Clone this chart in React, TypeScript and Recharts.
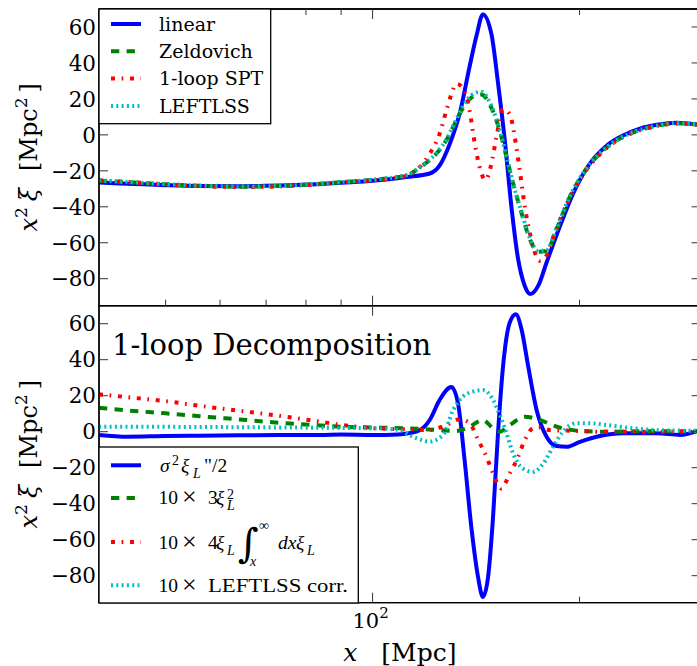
import React from 'react';
import { LineChart, Line, XAxis, YAxis, Legend, Customized, ReferenceArea } from 'recharts';

const SERIF = '"DejaVu Serif", serif';
const MATH = '"Liberation Serif", serif';

// ---------- Top panel data (x in Mpc, y = x^2 xi in Mpc^2) ----------
const linearX = [40, 45, 50, 56, 64, 73, 84, 90, 100, 112, 121.1, 125.2, 129.5, 133.9, 138.4, 141.6, 144.7, 148.9, 152.2, 155.7, 159.2, 162.8, 166.5, 169.7, 174.1, 179.1, 187.2, 195.8, 207, 219, 231.4, 244.8, 259, 276.9, 300];
const linearY = [-26.5, -27.3, -28, -28.5, -28.6, -28.2, -27.3, -26.6, -25.5, -23.4, -21.5, -17, -5, 12, 38, 55, 67, 56, 29, -3, -40, -69, -84, -88.5, -84, -71, -51, -32.5, -16, -6, -0.3, 3.5, 5.6, 6.8, 5.5];

const zelX = [40, 45, 50, 56, 64, 73, 84, 90, 100, 112, 118.3, 123.8, 128, 131.6, 135.4, 139.2, 143.9, 148.9, 153.1, 156.6, 160.1, 164.7, 169.3, 174.1, 179.1, 185.2, 193.6, 202.5, 214.1, 226.5, 239.4, 255.9, 276.9, 300];
const zelY = [-25.5, -26.5, -27.5, -28.3, -28.8, -28.5, -27.2, -26.3, -25, -22.5, -17, -10.5, -3, 6, 15, 20.7, 22.5, 15, 2.3, -12.3, -27, -43.5, -58, -65, -64.5, -52.5, -34.5, -21.5, -10.4, -3, 1.4, 4.6, 6.4, 5.6];

const leftX = [40, 45, 50, 56, 64, 73, 84, 90, 100, 112, 118.3, 123.8, 128, 131.6, 135.4, 139.2, 143.9, 148.9, 153.1, 156.6, 160.1, 164.7, 169.3, 174.1, 179.1, 185.2, 193.6, 202.5, 214.1, 226.5, 239.4, 255.9, 276.9, 300];
const leftY = [-25.3, -26.4, -27.4, -28.2, -28.7, -28.4, -27.1, -26.2, -24.9, -22.3, -16.8, -10.2, -2.6, 6.6, 16, 22, 24, 16, 2.8, -12, -27, -43, -57.5, -64.5, -64, -52, -34, -21.2, -10.2, -2.9, 1.5, 4.7, 6.5, 5.7];

const sptX = [40, 45, 50, 56, 64, 73, 84, 90, 100, 112, 117.1, 121.1, 125.2, 128, 130.2, 132.4, 135.4, 138.4, 140.8, 143.1, 145.9, 148.9, 151.4, 154.8, 158.3, 161, 163.7, 166.5, 169.3, 172.2, 175.1, 179.1, 184.1, 193.6, 202.5, 214.1, 226.5, 239.4, 255.9, 276.9, 300];
const sptY = [-25.3, -26.4, -27.6, -28.5, -29, -28.7, -27.3, -26.3, -25.3, -22.8, -18, -10.5, 0.7, 13.4, 22.6, 28.4, 26, 13.4, -4.8, -17.8, -25, -16, -1.3, 14.3, 11.5, -1.3, -19.6, -39.8, -54.4, -65.4, -70, -67, -54.4, -35, -22, -10.8, -3.3, 1.2, 4.5, 6.3, 5.6];

// ---------- Bottom panel data ----------
const sigX = [40, 44, 50, 56, 64, 73, 84, 90, 100, 109, 115.8, 121.1, 125.2, 130.2, 133.1, 136.1, 139.2, 142.4, 144.7, 147.2, 149.7, 152.2, 154.8, 158.3, 161.6, 164.7, 168.4, 173.2, 179.1, 185.2, 191.5, 200.3, 214.1, 231.4, 259, 280, 300];
const sigY = [-1.8, -2.8, -2.4, -2.2, -2.0, -1.8, -1.8, -1.6, -1.8, -1.5, 0, 6.5, 17.7, 24.8, 15.9, -15.8, -53, -81, -91.8, -81, -47.5, -0.9, 36.3, 60.6, 65.2, 56.8, 36.3, 12.1, -2.8, -8, -8.4, -5.6, -2.4, -0.9, -0.9, -1.8, 1];

const sqX = [40, 45, 50, 56, 64, 73, 84, 90, 100, 112, 125.2, 132.4, 138.4, 144.7, 149.7, 153.1, 158.3, 166.5, 175.1, 185.2, 198, 219, 250, 300];
const sqY = [13.3, 11.5, 10.2, 8.6, 6.8, 5, 3.5, 2.8, 2.3, 1.9, 0.9, 0.4, 2.8, 6.5, 1.9, 0, 3.7, 8.3, 6.5, 2.8, 0.6, 0, 0.2, 0.2];

const intX = [40, 45, 50, 56, 64, 73, 84, 90, 100, 112, 121.1, 128, 133.9, 138.4, 142.4, 146.5, 149.7, 153.9, 158.3, 162.8, 166.5, 171.2, 175.1, 180.9, 191.5, 214.1, 250, 300];
const intY = [20.8, 18.8, 17, 14.4, 11.6, 8.9, 5.5, 3.8, 2.0, 1.3, 0.9, 3.7, 6.9, 4.7, -4.6, -14, -23.2, -31.6, -23.2, -14, -4.6, 1.9, 2.4, 0.9, 0.6, 0, 0, 0];

const corrX = [40, 50, 64, 84, 100, 109.5, 114.5, 121.1, 126.6, 131, 135.4, 140, 144.7, 149.7, 153.1, 156.6, 160.1, 165.3, 171.2, 177.1, 183, 189.2, 198, 207, 219, 239.4, 259, 300];
const corrY = [2.8, 2.7, 2.5, 2.2, 1.9, 0.9, -2.8, -5.5, -1.8, 12.1, 19.6, 22.3, 23.2, 17.7, 9.3, -0.9, -12.1, -20.4, -22.3, -17.7, -8.4, 0, 4.7, 4.7, 3.7, 1.9, 0.9, 0.5];

// ---------- Axes ----------
const X_DOMAIN = [40, 300];
const X_TICKS = [50, 60, 70, 80, 90, 100, 200, 300];
const MAJOR_X = [100];
const Y_DOMAIN = [-95, 70];
const Y_TICKS = [-80, -60, -40, -20, 0, 20, 40, 60];

const topNames = ['linear', 'Zeldovich', '1-loop SPT', 'LEFTLSS'];
const colors = { blue: '#0000ff', green: '#008000', red: '#ff0000', cyan: '#00bfbf' };
const DASH_GREEN = '8.3 7.3';
const DASH_RED = '4 6.6 1.7 6.7';
const DASH_CYAN = '2 3.3';

const zip = (xs: number[], ys: number[]) => xs.map((x, i) => ({ x, y: ys[i] }));

const topSeries = [
  { name: topNames[0], data: zip(linearX, linearY), color: colors.blue, dash: undefined },
  { name: topNames[1], data: zip(zelX, zelY), color: colors.green, dash: DASH_GREEN },
  { name: topNames[2], data: zip(sptX, sptY), color: colors.red, dash: DASH_RED },
  { name: topNames[3], data: zip(leftX, leftY), color: colors.cyan, dash: DASH_CYAN },
];

const bottomSeries = [
  { key: 'sig', data: zip(sigX, sigY), color: colors.blue, dash: undefined },
  { key: 'sq', data: zip(sqX, sqY), color: colors.green, dash: DASH_GREEN },
  { key: 'int', data: zip(intX, intY), color: colors.red, dash: DASH_RED },
  { key: 'corr', data: zip(corrX, corrY), color: colors.cyan, dash: DASH_CYAN },
];

const TICK_COLOR = '#333';
const SPINE = { stroke: '#000', strokeWidth: 1.3 };

const fmt = (v: number) => (v < 0 ? `\u2212${Math.abs(v)}` : `${v}`);

const LeftTick = (props: any) => {
  const { x, y, payload } = props;
  return (
    <g>
      <line x1={x} x2={x + 9} y1={y} y2={y} stroke={TICK_COLOR} strokeWidth={1} />
      <text x={x - 3} y={y} dy="0.36em" textAnchor="end" fontFamily={SERIF} fontSize={21.5} fill="#000">
        {fmt(payload.value)}
      </text>
    </g>
  );
};

const RightTick = (props: any) => {
  const { x, y } = props;
  return <line x1={x - 9} x2={x} y1={y} y2={y} stroke={TICK_COLOR} strokeWidth={1} />;
};

const makeXTick = (dir: number, showLabel: boolean, majorOnly: boolean) => (props: any) => {
  const { x, y, payload } = props;
  const major = MAJOR_X.includes(payload.value);
  if (majorOnly && !major) return <g />;
  const len = major ? 10 : 6;
  return (
    <g>
      <line x1={x} x2={x} y1={y} y2={y + dir * len} stroke={TICK_COLOR} strokeWidth={1} />
      {showLabel && major ? (
        <text x={x - 2} y={y + 25.6} textAnchor="middle" fontFamily={SERIF} fontSize={21} fill="#000">
          10
          <tspan fontSize={15} dy={-10}>{String(Math.round(Math.log10(payload.value)))}</tspan>
        </text>
      ) : null}
    </g>
  );
};

const YLabel = (props: any) => {
  const vb = props.viewBox || { x: 0, y: 0, width: 99, height: 297 };
  const cx = vb.x + 37;
  const cy = vb.y + vb.height / 2;
  return (
    <text transform={`rotate(-90 ${cx} ${cy})`} x={cx} y={cy} textAnchor="middle" fontFamily={SERIF} fontSize={24} fill="#000">
      <tspan fontStyle="italic">x</tspan>
      <tspan fontSize={17} dy={-10}>2</tspan>
      <tspan dy={10} dx={6} fontStyle="italic">ξ</tspan>
      <tspan dx={17}>[Mpc</tspan>
      <tspan fontSize={17} dy={-10}>2</tspan>
      <tspan dy={10} dx={5}>]</tspan>
    </text>
  );
};

const XLabel = (props: any) => {
  const vb = props.viewBox || { x: 99, y: 302.7, width: 601.6, height: 63.3 };
  const cx = vb.x + vb.width / 2;
  return (
    <text x={cx} y={vb.y + 58} textAnchor="middle" fontFamily={SERIF} fontSize={25} fill="#000">
      <tspan fontStyle="italic">x</tspan>
      <tspan dx={24}>[Mpc]</tspan>
    </text>
  );
};

const TopLegend = () => (
  <svg width={172} height={115} style={{ display: 'block', overflow: 'visible' }}>
    <rect x={0} y={0} width={171.7} height={114.7} fill="#fff" stroke="#000" strokeWidth={1.3} />
    {topSeries.map((s, i) => {
      const cy = 15 + i * 27.3;
      return (
        <g key={s.name}>
          <line x1={12} x2={42} y1={cy} y2={cy} stroke={s.color} strokeWidth={4} strokeDasharray={s.dash} />
          <text x={60} y={cy + 6.7} fontFamily={SERIF} fontSize={19} fill="#000">{s.name}</text>
        </g>
      );
    })}
  </svg>
);

const BottomLegend = () => {
  const rows = [18.3, 51, 95, 138.3];
  const fs = 19.5;
  const sub = 14;
  const b1 = 25.3, b2 = 56.6, b3 = 101.6, b4 = 145;
  return (
    <svg width={260} height={156} style={{ display: 'block', overflow: 'visible' }}>
      <rect x={0} y={0} width={259.3} height={156} fill="#fff" stroke="#000" strokeWidth={1.3} />
      {bottomSeries.map((s, i) => (
        <line key={s.key} x1={12} x2={42} y1={rows[i]} y2={rows[i]} stroke={s.color} strokeWidth={4} strokeDasharray={s.dash} />
      ))}
      <g fontFamily={MATH} fontSize={fs} fill="#000">
        {/* row 1: sigma^2 xi_L''/2 */}
        <text x={61} y={b1} fontStyle="italic">σ</text>
        <text x={73} y={b1 - 7} fontSize={sub}>2</text>
        <text x={82} y={b1} fontStyle="italic">ξ</text>
        <text x={94} y={b1 + 6} fontSize={sub} fontStyle="italic">L</text>
        <text x={105} y={b1}>"/2</text>
        {/* row 2 */}
        <text x={59.5} y={b2}>10</text>
        <text x={83} y={b2 + 1} fontSize={26}>×</text>
        <text x={109} y={b2}>3</text>
        <text x={117} y={b2} fontStyle="italic">ξ</text>
        <text x={128} y={b2 - 5} fontSize={sub}>2</text>
        <text x={128} y={b2 + 6.5} fontSize={sub} fontStyle="italic">L</text>
        {/* row 3 */}
        <text x={59.5} y={b3}>10</text>
        <text x={83} y={b3 + 1} fontSize={26}>×</text>
        <text x={109} y={b3}>4</text>
        <text x={117} y={b3} fontStyle="italic">ξ</text>
        <text x={128} y={b3 + 6} fontSize={sub} fontStyle="italic">L</text>
        <text x={139} y={b3 + 8} fontSize={40} fontFamily={SERIF} fontStyle="italic">∫</text>
        <text x={160} y={b3 - 19} fontSize={sub}>∞</text>
        <text x={151} y={b3 + 17} fontSize={sub} fontStyle="italic">x</text>
        <text x={179} y={b3} fontStyle="italic">dx</text>
        <text x={197} y={b3} fontStyle="italic">ξ</text>
        <text x={208} y={b3 + 6} fontSize={sub} fontStyle="italic">L</text>
        {/* row 4 */}
        <text x={59.5} y={b4}>10</text>
        <text x={83} y={b4 + 1} fontSize={26}>×</text>
        <text x={109} y={b4} textLength={140} lengthAdjust="spacingAndGlyphs">LEFTLSS corr.</text>
      </g>
    </svg>
  );
};

const Title = () => (
  <text x={112} y={55} fontFamily={SERIF} fontSize={29} fill="#000">1-loop Decomposition</text>
);

const commonXAxis = {
  type: 'number' as const,
  dataKey: 'x',
  scale: 'log' as const,
  domain: X_DOMAIN,
  allowDataOverflow: true,
  ticks: X_TICKS,
  interval: 0 as const,
  tickLine: false,
  tickSize: 0,
  tickMargin: 0,
  axisLine: SPINE,
};

const commonYAxis = {
  type: 'number' as const,
  domain: Y_DOMAIN,
  allowDataOverflow: true,
  ticks: Y_TICKS,
  interval: 0 as const,
  tickLine: false,
  tickSize: 0,
  tickMargin: 0,
  axisLine: SPINE,
};

const Frame = () => (
  <ReferenceArea
    xAxisId="b"
    yAxisId="l"
    x1={X_DOMAIN[0]}
    x2={X_DOMAIN[1]}
    y1={Y_DOMAIN[0]}
    y2={Y_DOMAIN[1]}
    fill="none"
    fillOpacity={0}
    stroke="#000"
    strokeWidth={1.3}
    ifOverflow="visible"
  />
);

export default function App() {
  return (
    <div style={{ position: 'fixed', left: 0, top: 0, width: 697, height: 666, overflow: 'hidden', background: '#fff' }}>
      <div style={{ position: 'absolute', left: 0, top: 0 }}>
        <LineChart width={720} height={310} margin={{ top: 8, right: 18.4, bottom: 3.3, left: 0 }}>
          <XAxis xAxisId="b" orientation="bottom" height={1} {...commonXAxis} tick={makeXTick(-1, false, false)} />
          <XAxis xAxisId="t" orientation="top" height={1} {...commonXAxis} tick={makeXTick(1, false, false)} />
          <YAxis yAxisId="l" orientation="left" width={99} {...commonYAxis} tick={LeftTick} label={{ content: YLabel }} />
          <YAxis yAxisId="r" orientation="right" width={1} {...commonYAxis} tick={RightTick} />
          {Frame()}
          {topSeries.map((s) => (
            <Line
              key={s.name}
              xAxisId="b"
              yAxisId="l"
              data={s.data}
              dataKey="y"
              name={s.name}
              type="monotone"
              stroke={s.color}
              strokeWidth={4}
              strokeDasharray={s.dash}
              strokeLinecap="butt"
              dot={false}
              activeDot={false}
              isAnimationActive={false}
            />
          ))}
          <Legend
            layout="horizontal"
            verticalAlign="middle"
            align="center"
            content={TopLegend}
            wrapperStyle={{ position: 'absolute', left: 99, top: 9, width: 172, height: 115, margin: 0, padding: 0 }}
          />
        </LineChart>
      </div>
      <div style={{ position: 'absolute', left: 0, top: 300 }}>
        <LineChart width={720} height={366} margin={{ top: 4.7, right: 18.4, bottom: 0, left: 0 }}>
          <XAxis xAxisId="b" orientation="bottom" height={63.3} {...commonXAxis} tick={makeXTick(-1, true, false)} label={{ content: XLabel }} />
          <XAxis xAxisId="t" orientation="top" height={1} {...commonXAxis} tick={makeXTick(1, false, true)} />
          <YAxis yAxisId="l" orientation="left" width={99} {...commonYAxis} tick={LeftTick} label={{ content: YLabel }} />
          <YAxis yAxisId="r" orientation="right" width={1} {...commonYAxis} tick={RightTick} />
          {Frame()}
          {bottomSeries.map((s) => (
            <Line
              key={s.key}
              xAxisId="b"
              yAxisId="l"
              data={s.data}
              dataKey="y"
              name={s.key}
              type="monotone"
              stroke={s.color}
              strokeWidth={4}
              strokeDasharray={s.dash}
              strokeLinecap="butt"
              dot={false}
              activeDot={false}
              isAnimationActive={false}
            />
          ))}
          <Customized component={Title} />
          <Legend
            layout="horizontal"
            verticalAlign="middle"
            align="center"
            content={BottomLegend}
            wrapperStyle={{ position: 'absolute', left: 99, top: 146.7, width: 260, height: 156, margin: 0, padding: 0 }}
          />
        </LineChart>
      </div>
    </div>
  );
}
